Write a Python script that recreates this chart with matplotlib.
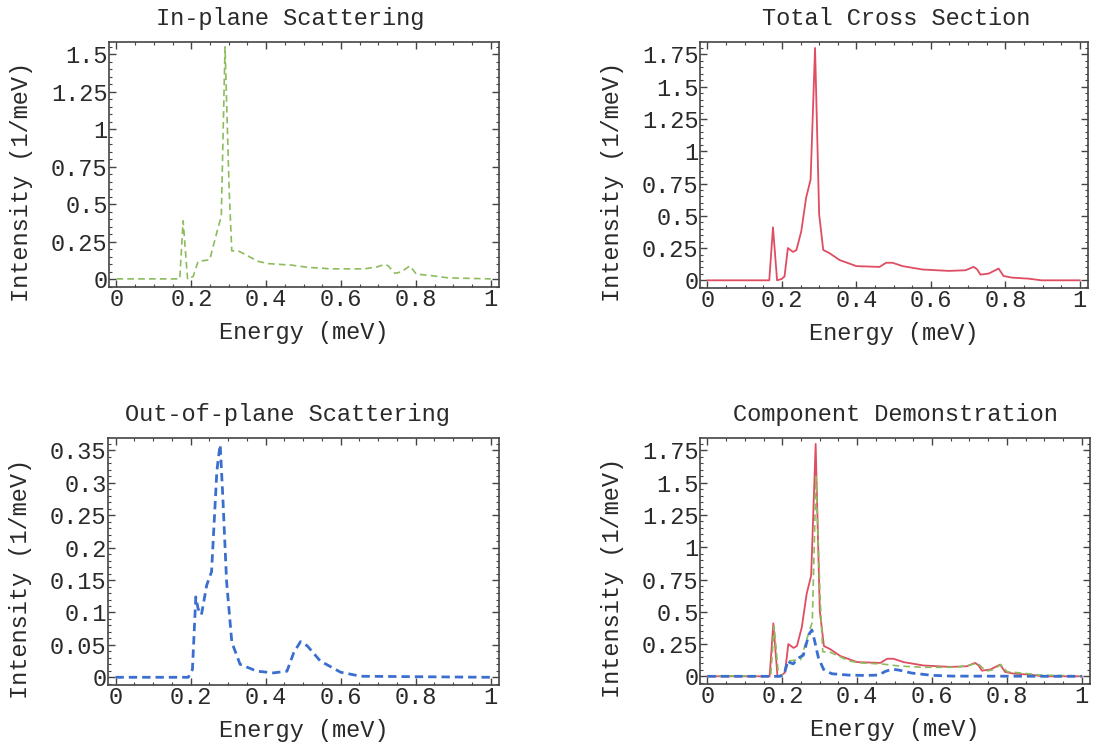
import numpy as np
import matplotlib
matplotlib.use('Agg')
import matplotlib.pyplot as plt
from matplotlib.ticker import MultipleLocator, FuncFormatter

plt.rcParams['font.family'] = ['Liberation Mono', 'DejaVu Sans Mono']
plt.rcParams['font.size'] = 17

# in-plane scattering (green dashed)
e_in = [0.0, 0.169, 0.178, 0.19, 0.205, 0.218, 0.249, 0.272, 0.28, 0.29, 0.301,
        0.308, 0.325, 0.352, 0.378, 0.405, 0.467, 0.512, 0.574, 0.663, 0.699,
        0.717, 0.726, 0.744, 0.761, 0.784, 0.801, 0.841, 0.886, 1.0]
i_in = [0.003, 0.003, 0.39, 0.0, 0.02, 0.12, 0.13, 0.35, 0.42, 1.55, 0.6,
        0.19, 0.19, 0.155, 0.12, 0.105, 0.095, 0.08, 0.07, 0.07, 0.085,
        0.10, 0.09, 0.04, 0.05, 0.09, 0.035, 0.025, 0.01, 0.003]

# total cross section (red solid)
e_tot = [0.0, 0.166, 0.176, 0.187, 0.199, 0.207, 0.216, 0.230, 0.239, 0.252, 0.265,
         0.277, 0.289, 0.300, 0.311, 0.328, 0.355, 0.400, 0.462, 0.480, 0.497,
         0.524, 0.577, 0.648, 0.693, 0.715, 0.724, 0.733, 0.755, 0.782, 0.795,
         0.817, 0.862, 0.897, 1.0]
i_tot = [0.0, 0.0, 0.41, 0.0, 0.01, 0.03, 0.25, 0.22, 0.235, 0.38, 0.64,
         0.78, 1.80, 0.51, 0.235, 0.21, 0.157, 0.11, 0.104, 0.136, 0.136,
         0.11, 0.084, 0.073, 0.078, 0.104, 0.086, 0.044, 0.052, 0.091, 0.034,
         0.021, 0.013, 0.0, 0.0]

# out-of-plane scattering (blue dashed)
e_out = [0.0, 0.194, 0.205, 0.214, 0.22, 0.229, 0.243, 0.256, 0.27, 0.274, 0.279,
         0.286, 0.296, 0.31, 0.332, 0.377, 0.421, 0.457, 0.475, 0.493, 0.511,
         0.546, 0.6, 0.654, 1.0]
i_out = [0.0, 0.0, 0.012, 0.124, 0.106, 0.0965, 0.142, 0.163, 0.317, 0.338, 0.359,
         0.278, 0.148, 0.054, 0.02, 0.0094, 0.0068, 0.0094, 0.038, 0.055, 0.0485,
         0.025, 0.0078, 0.0016, 0.0]

green = '#8cbc5c'
red = '#e04c62'
blue = '#3a6ecf'
frame = '#444444'
txt = '#2a2a2a'


def fmt(v, pos):
    return '{:g}'.format(round(v, 4))


def style(ax, title, ymax, ymaj, yminor, tx):
    ax.set_title(title, fontsize=17, pad=12, color=txt, x=tx)
    ax.set_xlim(-0.02, 1.022)
    ax.set_ylim(-ymax * 0.034, ymax * 1.055)
    ax.xaxis.set_major_locator(MultipleLocator(0.2))
    ax.xaxis.set_minor_locator(MultipleLocator(0.05))
    ax.yaxis.set_major_locator(MultipleLocator(ymaj))
    ax.yaxis.set_minor_locator(MultipleLocator(yminor))
    ax.xaxis.set_major_formatter(FuncFormatter(fmt))
    ax.yaxis.set_major_formatter(FuncFormatter(fmt))
    ax.tick_params(which='both', direction='in', top=True, right=True,
                   color=frame, labelcolor=txt, pad=1)
    ax.tick_params(which='major', length=5, width=1)
    ax.tick_params(which='minor', length=2.5, width=0.8)
    for s in ax.spines.values():
        s.set_color(frame)
        s.set_linewidth(1.2)
    ax.set_xlabel('Energy (meV)', labelpad=7, color=txt)
    ax.set_ylabel('Intensity (1/meV)', color=txt)
    ax.yaxis.set_label_coords(-0.195, 0.43)


fig = plt.figure(figsize=(11.05, 7.44), dpi=100)
W, H = 1105, 744
ax1 = fig.add_axes([109 / W, 1 - 287 / H, 390 / W, 245 / H])
ax2 = fig.add_axes([700 / W, 1 - 288 / H, 388 / W, 246 / H])
ax3 = fig.add_axes([108 / W, 1 - 685 / H, 391 / W, 247 / H])
ax4 = fig.add_axes([700 / W, 1 - 684 / H, 390 / W, 246 / H])

ax1.plot(e_in, i_in, color=green, lw=1.2, dashes=(4, 2.5))
style(ax1, 'In-plane Scattering', 1.5, 0.25, 0.05, 0.465)

ax2.plot(e_tot, i_tot, color=red, lw=1.3)
style(ax2, 'Total Cross Section', 1.75, 0.25, 0.05, 0.505)

ax3.plot(e_out, i_out, color=blue, lw=2.0, dashes=(3, 1.8))
style(ax3, 'Out-of-plane Scattering', 0.35, 0.05, 0.01, 0.46)

ax4.plot(e_tot, i_tot, color=red, lw=1.3)
ax4.plot(e_in, i_in, color=green, lw=1.2, dashes=(4, 2.5))
ax4.plot(e_out, i_out, color=blue, lw=2.0, dashes=(3, 1.8))
style(ax4, 'Component Demonstration', 1.75, 0.25, 0.05, 0.5)

fig.savefig('out.png', dpi=100)
